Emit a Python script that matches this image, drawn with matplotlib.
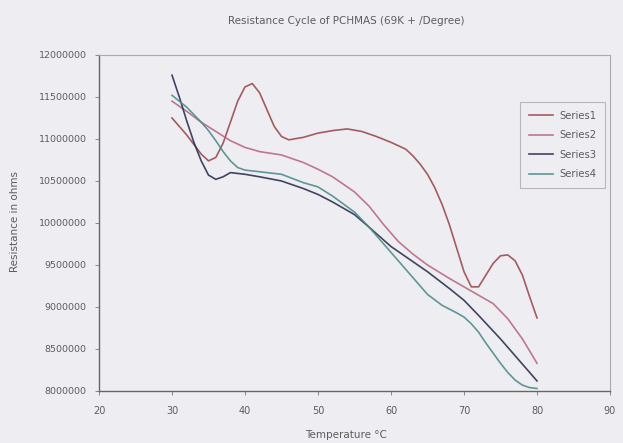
import matplotlib
matplotlib.use("Agg")
import matplotlib.pyplot as plt

plt.rcParams['font.family'] = ['DejaVu Sans']

# Temperature (deg C) and resistance (ohms) for each run
t1 = [30, 32, 34, 35, 36, 37, 38, 39, 40, 41, 42, 43, 44, 45, 46, 48, 50, 52, 54, 56, 58, 60,
      62, 63, 64, 65, 66, 67, 68, 69, 70, 71, 72, 73, 74, 75, 76, 77, 78, 79, 80]
r1 = [11250000, 11050000, 10820000, 10740000, 10780000, 10950000, 11200000, 11450000, 11620000,
      11660000, 11550000, 11350000, 11150000, 11030000, 10990000, 11020000, 11070000, 11100000,
      11120000, 11090000, 11030000, 10960000, 10880000, 10800000, 10700000, 10580000, 10420000,
      10220000, 9980000, 9700000, 9420000, 9240000, 9240000, 9380000, 9520000, 9610000, 9620000,
      9550000, 9380000, 9120000, 8870000]

t2 = [30, 32, 34, 36, 38, 40, 42, 45, 48, 50, 52, 55, 57, 59, 61, 63, 65, 68, 70, 72, 74, 76, 78, 80]
r2 = [11450000, 11330000, 11200000, 11090000, 10980000, 10900000, 10850000, 10810000, 10720000,
      10640000, 10550000, 10370000, 10200000, 9980000, 9780000, 9630000, 9500000, 9340000,
      9240000, 9140000, 9040000, 8860000, 8620000, 8330000]

t3 = [30, 31, 32, 33, 34, 35, 36, 37, 38, 40, 42, 45, 48, 50, 52, 55, 57, 60, 62, 65, 68, 70,
      72, 75, 78, 80]
r3 = [11760000, 11500000, 11220000, 10960000, 10740000, 10570000, 10520000, 10550000, 10600000,
      10580000, 10550000, 10500000, 10410000, 10340000, 10250000, 10100000, 9950000, 9720000,
      9600000, 9420000, 9220000, 9080000, 8900000, 8620000, 8320000, 8120000]

t4 = [30, 32, 34, 35, 36, 37, 38, 39, 40, 42, 45, 48, 50, 52, 55, 57, 59, 61, 63, 65, 67, 69,
      70, 71, 72, 73, 74, 75, 76, 77, 78, 79, 80]
r4 = [11520000, 11380000, 11200000, 11100000, 10980000, 10850000, 10740000, 10660000, 10630000,
      10610000, 10580000, 10480000, 10430000, 10320000, 10130000, 9950000, 9750000, 9550000,
      9350000, 9150000, 9020000, 8930000, 8880000, 8800000, 8700000, 8570000, 8450000, 8330000,
      8220000, 8130000, 8070000, 8040000, 8030000]

series_names = ["Series1", "Series2", "Series3", "Series4"]
series_colors = ["#9a4c50", "#b86a86", "#2e3150", "#4f8c8c"]

x_ticks = [20, 30, 40, 50, 60, 70, 80, 90]
y_ticks = [8000000, 8500000, 9000000, 9500000, 10000000, 10500000, 11000000, 11500000, 12000000]

bg = "#eeeef2"
txt = "#5c5c5c"
fig = plt.figure(figsize=(6.23, 4.43), dpi=100, facecolor=bg)
ax = fig.add_axes([99 / 623, 52 / 443, 511 / 623, 336 / 443], facecolor=bg)

for t, r, name, c in zip([t1, t2, t3, t4], [r1, r2, r3, r4], series_names, series_colors):
    ax.plot(t, r, color=c, lw=1.2, label=name, alpha=0.9, solid_joinstyle="round")

ax.set_xlim(20, 90)
ax.set_ylim(8000000, 12000000)
ax.set_xticks(x_ticks)
ax.set_yticks(y_ticks)
ax.set_xticklabels([str(v) for v in x_ticks], fontsize=7, color=txt)
ax.set_yticklabels([str(v) for v in y_ticks], fontsize=6.8, color=txt)
ax.tick_params(axis='both', length=3, width=0.6, color="#777777", direction='out')
ax.tick_params(axis='y', pad=6)
ax.tick_params(axis='x', pad=8)

for side in ["left", "bottom"]:
    ax.spines[side].set_color("#666666")
    ax.spines[side].set_linewidth(1.0)
for side in ["top", "right"]:
    ax.spines[side].set_color("#aaaaaa")
    ax.spines[side].set_linewidth(0.8)

fig.text(346 / 623, 1 - 435 / 443, "Temperature \u00b0C", fontsize=7.5, color=txt,
         ha="center", va="center")
fig.text(15 / 623, 1 - 222 / 443, "Resistance in ohms", fontsize=7.5, color=txt,
         ha="center", va="center", rotation=90)
fig.text(346 / 623, 1 - 21 / 443, "Resistance Cycle of PCHMAS (69K + /Degree)", fontsize=7.5,
         color=txt, ha="center", va="center")

leg = ax.legend(loc="upper right", bbox_to_anchor=(1.0, 0.875), fontsize=7.2, frameon=True,
                fancybox=False, edgecolor="#aaaaaa", facecolor=bg, handlelength=2.4,
                labelspacing=0.95, borderpad=0.9, handletextpad=0.6)
leg.get_frame().set_linewidth(0.8)
for t in leg.get_texts():
    t.set_color(txt)

fig.savefig("out.png", dpi=100, facecolor=bg)
